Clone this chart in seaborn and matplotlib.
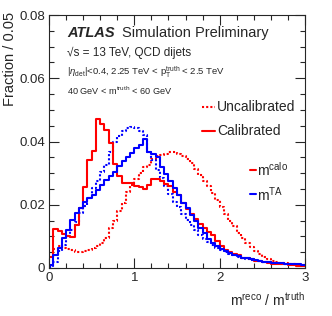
import numpy as np
import pandas as pd
import matplotlib
matplotlib.use("Agg")
import matplotlib.pyplot as plt
from matplotlib.ticker import MultipleLocator, FuncFormatter
import seaborn as sns

# bin edges of m^reco / m^truth (width 0.05)
bin_edges = [round(0.05 * i, 2) for i in range(61)]
bin_centers = [round(0.05 * i + 0.025, 3) for i in range(60)]

# fraction per bin
calo_calibrated = [
    0.0034, 0.0122, 0.0118, 0.0108, 0.0100, 0.0098, 0.0135, 0.0190, 0.0255, 0.0340,
    0.0370, 0.0472, 0.0455, 0.0435, 0.0395, 0.0330, 0.0290, 0.0270, 0.0268, 0.0268,
    0.0260, 0.0255, 0.0250, 0.0262, 0.0280, 0.0282, 0.0275, 0.0265, 0.0258, 0.0240,
    0.0230, 0.0205, 0.0185, 0.0172, 0.0155, 0.0140, 0.0128, 0.0115, 0.0105, 0.0085,
    0.0070, 0.0058, 0.0050, 0.0043, 0.0040, 0.0033, 0.0031, 0.0028, 0.0022, 0.0021,
    0.0019, 0.0017, 0.0014, 0.0013, 0.0012, 0.0012, 0.0011, 0.0010, 0.0007, 0.0005,
]
calo_uncalibrated = [
    0.0005, 0.0060, 0.0068, 0.0064, 0.0060, 0.0056, 0.0052, 0.0052, 0.0054, 0.0058,
    0.0063, 0.0068, 0.0078, 0.0095, 0.0125, 0.0150, 0.0180, 0.0205, 0.0240, 0.0262,
    0.0280, 0.0300, 0.0318, 0.0327, 0.0345, 0.0355, 0.0358, 0.0362, 0.0368, 0.0366,
    0.0362, 0.0355, 0.0346, 0.0332, 0.0312, 0.0295, 0.0275, 0.0258, 0.0237, 0.0215,
    0.0192, 0.0170, 0.0150, 0.0132, 0.0112, 0.0095, 0.0080, 0.0066, 0.0054, 0.0044,
    0.0036, 0.0028, 0.0023, 0.0019, 0.0017, 0.0015, 0.0014, 0.0012, 0.0011, 0.0010,
]
ta_calibrated = [
    0.0010, 0.0040, 0.0063, 0.0095, 0.0121, 0.0153, 0.0174, 0.0189, 0.0210, 0.0221,
    0.0232, 0.0247, 0.0263, 0.0279, 0.0290, 0.0305, 0.0321, 0.0337, 0.0350, 0.0363,
    0.0381, 0.0390, 0.0408, 0.0368, 0.0360, 0.0350, 0.0320, 0.0296, 0.0274, 0.0253,
    0.0232, 0.0205, 0.0190, 0.0169, 0.0148, 0.0126, 0.0110, 0.0093, 0.0080, 0.0069,
    0.0060, 0.0055, 0.0047, 0.0040, 0.0037, 0.0033, 0.0031, 0.0027, 0.0024, 0.0021,
    0.0020, 0.0018, 0.0017, 0.0016, 0.0015, 0.0014, 0.0013, 0.0012, 0.0012, 0.0011,
]
ta_uncalibrated = [
    0.0002, 0.0020, 0.0053, 0.0074, 0.0100, 0.0121, 0.0147, 0.0174, 0.0195, 0.0220,
    0.0253, 0.0274, 0.0305, 0.0326, 0.0368, 0.0400, 0.0416, 0.0432, 0.0444, 0.0447,
    0.0442, 0.0434, 0.0420, 0.0368, 0.0342, 0.0310, 0.0285, 0.0260, 0.0235, 0.0210,
    0.0192, 0.0172, 0.0152, 0.0135, 0.0120, 0.0105, 0.0092, 0.0082, 0.0072, 0.0064,
    0.0057, 0.0051, 0.0045, 0.0040, 0.0036, 0.0032, 0.0029, 0.0026, 0.0023, 0.0021,
    0.0019, 0.0018, 0.0016, 0.0015, 0.0014, 0.0013, 0.0012, 0.0012, 0.0011, 0.0010,
]

RED = "#ff0000"
BLUE = "#0000ff"
DOT = (0, (1, 1))

sns.set_style("ticks")
plt.rcParams["font.family"] = ["Liberation Sans", "DejaVu Sans"]
plt.rcParams["mathtext.fontset"] = "custom"
plt.rcParams["mathtext.rm"] = "Liberation Sans"
plt.rcParams["mathtext.it"] = "Liberation Sans:italic"
plt.rcParams["mathtext.bf"] = "Liberation Sans:bold"

fig = plt.figure(figsize=(3.32, 3.16), dpi=100)
ax = fig.add_axes([49 / 332, 48 / 316, 256 / 332, 253 / 316])

series = [
    (calo_uncalibrated, RED, DOT),
    (ta_uncalibrated, BLUE, DOT),
    (calo_calibrated, RED, "-"),
    (ta_calibrated, BLUE, "-"),
]
for vals, col, ls in series:
    df = pd.DataFrame({"x": bin_centers, "w": vals})
    sns.histplot(data=df, x="x", weights="w", bins=bin_edges, element="step",
                 fill=False, color=col, linestyle=ls, linewidth=1.5, ax=ax)

ax.set_xlim(0, 3)
ax.set_ylim(0, 0.08)
ax.xaxis.set_major_locator(MultipleLocator(1))
ax.xaxis.set_minor_locator(MultipleLocator(0.2))
ax.yaxis.set_major_locator(MultipleLocator(0.02))
ax.yaxis.set_minor_locator(MultipleLocator(0.005))
ax.xaxis.set_major_formatter(FuncFormatter(lambda v, p: f"{v:.0f}"))
ax.yaxis.set_major_formatter(FuncFormatter(lambda v, p: "0" if abs(v) < 1e-9 else f"{v:.2f}"))
ax.tick_params(which="both", direction="in", top=True, right=True, labelsize=9.5, width=0.8, pad=3)
ax.tick_params(which="major", length=7)
ax.tick_params(which="minor", length=3.5)
for s in ax.spines.values():
    s.set_linewidth(0.8)

ax.set_ylabel("Fraction / 0.05", fontsize=10.5, ha="right", va="center")
ax.yaxis.set_label_coords(-(49 - 10) / 256, (268 - 12) / 253)
ax.set_xlabel(r"$\mathrm{m}^{\mathrm{reco}}$ / $\mathrm{m}^{\mathrm{truth}}$", fontsize=10,
              ha="right", va="center")
ax.xaxis.set_label_coords(1.0, -(300 - 268) / 253)

# ATLAS label and selection text
ax.text(0.07, (268 - 33) / 253, "ATLAS", transform=ax.transAxes, fontsize=10.5, fontweight="bold",
        fontstyle="italic", va="center")
ax.text(0.284, (268 - 33) / 253, "Simulation Preliminary", transform=ax.transAxes, fontsize=10.5,
        va="center")
ax.text(0.07, (268 - 53) / 253, "√s = 13 TeV, QCD dijets", transform=ax.transAxes, fontsize=8.5,
        va="center")
ax.text(0.07, (268 - 72.5) / 253,
        r"$|\eta_{\mathrm{det}}|$<0.4, 2.25 TeV < $\mathrm{p}_{\mathrm{T}}^{\mathrm{truth}}$ < 2.5 TeV",
        transform=ax.transAxes, fontsize=6.8, va="center")
ax.text(0.07, (268 - 91) / 253, r"40 GeV < $\mathrm{m}^{\mathrm{truth}}$ < 60 GeV",
        transform=ax.transAxes, fontsize=6.6, va="center")

# legends
leg_items = [
    (0.598, 0.648, 0.656, 0.637, RED, DOT, "Uncalibrated"),
    (0.598, 0.648, 0.656, 0.543, RED, "-", "Calibrated"),
    (0.785, 0.808, 0.812, 0.387, RED, "-", r"$\mathrm{m}^{\mathrm{calo}}$"),
    (0.785, 0.808, 0.812, 0.291, BLUE, "-", r"$\mathrm{m}^{\mathrm{TA}}$"),
]
for x0, x1, xt, y, col, ls, lab in leg_items:
    ax.plot([x0, x1], [y, y], transform=ax.transAxes, color=col, linestyle=ls, linewidth=1.5)
    ax.text(xt, y, lab, transform=ax.transAxes, fontsize=10, va="center")

fig.savefig("out.png", dpi=100)
